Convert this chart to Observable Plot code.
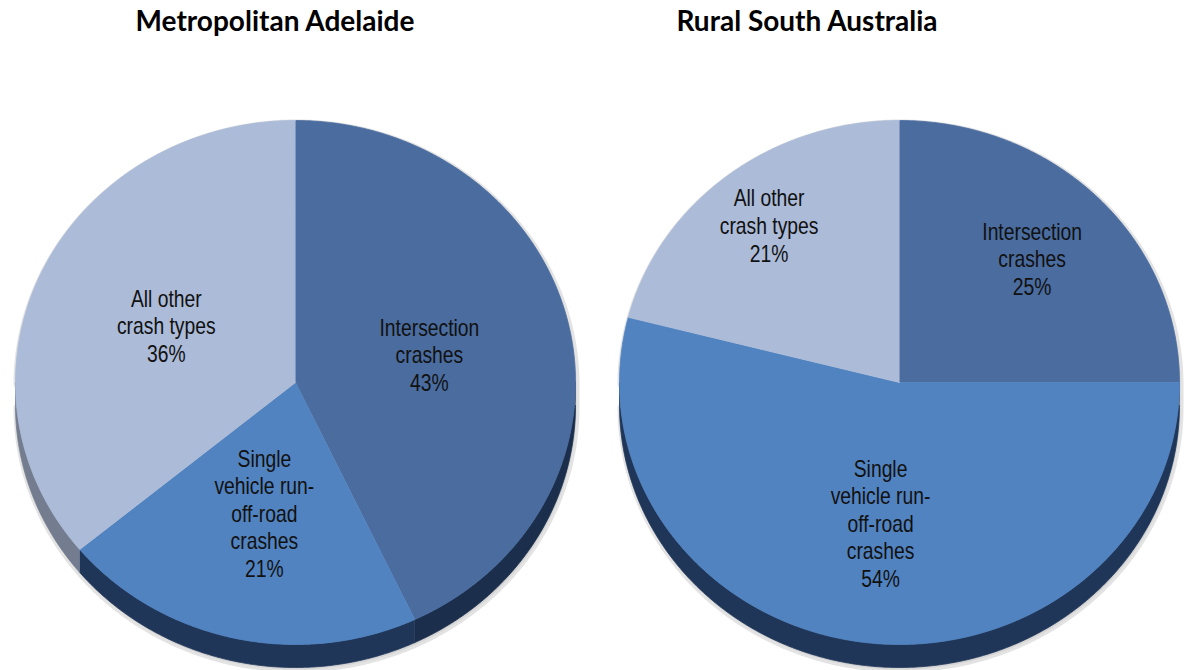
<!DOCTYPE html>
<html><head><meta charset="utf-8">
<script src="https://cdn.jsdelivr.net/npm/d3@7"></script>
<script src="https://cdn.jsdelivr.net/npm/@observablehq/plot@0.6"></script>
<style>
body{margin:0;background:#fff;}
#wrap{position:relative;width:1187px;height:670px;overflow:hidden;}
.title{position:absolute;top:3px;font-family:Lato,"Open Sans",sans-serif;font-weight:bold;font-size:28px;line-height:34px;color:#000;transform:translateX(-50%);white-space:nowrap;}
#chart{position:absolute;top:50px;left:0;}
</style></head><body>
<div id="wrap"><div id="titles"></div><div id="chart"></div></div>
<script>
// ---- data ----
const chartTitles = ["Metropolitan Adelaide", "Rural South Australia"];
const categories = ["Intersection crashes", "Single vehicle run-off-road crashes", "All other crash types"];
const categoryLabels = ["Intersection\ncrashes", "Single\nvehicle run-\noff-road\ncrashes", "All other\ncrash types"];
const metroValues = [43, 21, 36];
const ruralValues = [25, 54, 21];

// ---- layout / style ----
const W = 1187, H = 620;
const centers = [295, 899];
const titleCenters = [275, 807];
const cy = 332, rx = 280, ry = 262, depth = 23;
const topColors = ["#4a6c9f", "#5183c0", "#abbbd8"];
const sideColors = ["#1b2e4b", "#1f3659", "#737d8f"];
const labelDist = [[0.49, 0.51, 0.51], [0.67, 0.54, 0.76]];

const titles = document.getElementById("titles");
chartTitles.forEach((t, i) => {
  const d = document.createElement("div");
  d.className = "title"; d.style.left = titleCenters[i] + "px"; d.textContent = t;
  titles.appendChild(d);
});

const series = [metroValues, ruralValues];
const topPts = [], sidePts = [], labels = [], shadowPts = [];
const px = (cx, a) => cx + rx * Math.sin(a);
const py = (yc, a) => yc - ry * Math.cos(a);
function arc(cx, yc, a0, a1) {
  const n = Math.max(2, Math.ceil(Math.abs(a1 - a0) / (Math.PI / 360)));
  return d3.range(n + 1).map(k => { const a = a0 + (a1 - a0) * k / n; return [px(cx, a), py(yc, a)]; });
}
series.forEach((vals, c) => {
  const cx = centers[c];
  const total = d3.sum(vals);
  let cum = 0;
  const sh = [...arc(cx, cy, -Math.PI/2, Math.PI/2), ...arc(cx, cy + depth, Math.PI/2, 3*Math.PI/2)];
  sh.forEach(([x, y]) => shadowPts.push({x, y, id: "s" + c}));
  vals.forEach((v, i) => {
    const a0 = cum / total * 2 * Math.PI;
    cum += v;
    const a1 = cum / total * 2 * Math.PI;
    const id = c + "-" + i;
    [[cx, cy], ...arc(cx, cy, a0, a1)].forEach(([x, y]) => topPts.push({x, y, id, color: topColors[i]}));
    const s0 = Math.max(a0, Math.PI / 2), s1 = Math.min(a1, 3 * Math.PI / 2);
    if (s1 > s0) {
      [...arc(cx, cy, s0, s1), ...arc(cx, cy + depth, s1, s0)].forEach(([x, y]) => sidePts.push({x, y, id, color: sideColors[i]}));
    }
    const am = (a0 + a1) / 2, r = labelDist[c][i];
    labels.push({x: cx + r * rx * Math.sin(am), y: cy - r * ry * Math.cos(am), text: categoryLabels[i] + "\n" + v + "%"});
  });
});

const plot = Plot.plot({
  width: W, height: H, margin: 0,
  x: {domain: [0, W], range: [0, W], axis: null},
  y: {domain: [0, H], range: [0, H], axis: null},
  color: {type: "identity"},
  marks: [
    Plot.line(shadowPts, {x: "x", y: "y", z: "id", fill: "#bbbbbb", stroke: "#d0d0d0", strokeWidth: 6, strokeOpacity: 0.6, fillOpacity: 0.5, dy: 2, dx: 1}),
    Plot.line(sidePts, {x: "x", y: "y", z: "id", fill: "color", stroke: "color", strokeWidth: 0.8}),
    Plot.line(topPts, {x: "x", y: "y", z: "id", fill: "color", stroke: "color", strokeWidth: 0.8}),
    Plot.text(labels, {x: "x", y: "y", text: "text", fontSize: 23, lineHeight: 1.2, fill: "#111", fontFamily: "'Liberation Sans Narrow','Liberation Sans',Arial,sans-serif"})
  ]
});
// condense the label glyphs horizontally (Arial Narrow look)
d3.select(plot).selectAll("g[aria-label='text'] text").each(function() {
  const t = this.getAttribute("transform") || "";
  this.setAttribute("transform", t + " scale(0.84,1)");
});
document.getElementById("chart").appendChild(plot);
</script>
</body></html>
